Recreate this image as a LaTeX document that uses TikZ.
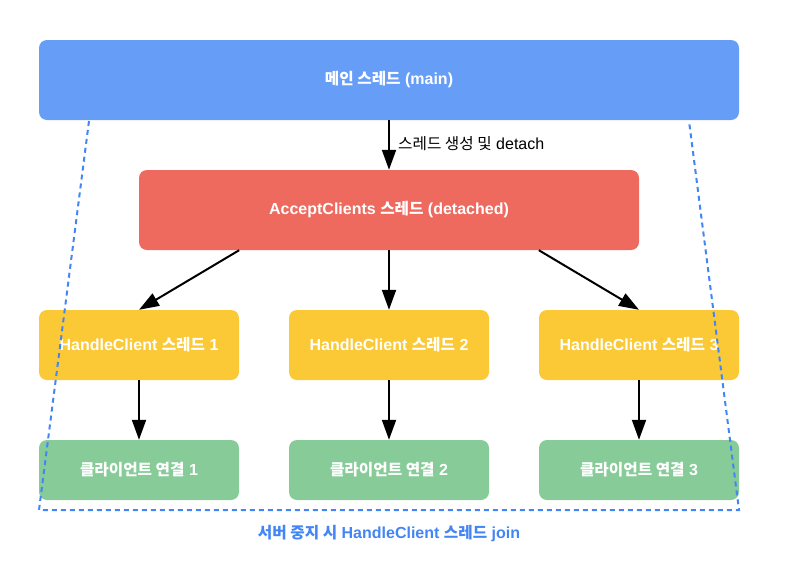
\documentclass[tikz,border=0pt]{standalone}
\usepackage{fontspec}
\setmainfont{Liberation Sans}
\newfontfamily\krfont{Noto Sans CJK KR}[Scale=0.98]
\newcommand{\K}[1]{{\krfont #1}}
\usetikzlibrary{arrows.meta}
\definecolor{mainblue}{RGB}{102,157,246}
\definecolor{accred}{RGB}{238,106,95}
\definecolor{handyel}{RGB}{251,201,54}
\definecolor{cligreen}{RGB}{135,203,152}
\definecolor{joinblue}{RGB}{66,133,244}
\begin{document}
\begin{tikzpicture}[x=1pt,y=-1pt,
  box/.style={rounded corners=8pt, inner sep=0pt, text=white,
    font=\fontsize{16}{18}\selectfont\bfseries},
  arr/.style={line width=2pt, -{Triangle[length=20pt,width=14pt]}},
  joinline/.style={joinblue, line width=2pt, dash pattern=on 5pt off 4pt}
]
\useasboundingbox (0,0) rectangle (792,568);
\node[box, fill=mainblue, minimum width=700pt, minimum height=80pt] (main) at (389,80) {\K{메인 스레드} (main)};
\node[box, fill=accred, minimum width=500pt, minimum height=80pt] (acc) at (389,210) {AcceptClients \K{스레드} (detached)};
\node[box, fill=handyel, minimum width=200pt, minimum height=70pt] (h1) at (139,345) {HandleClient \K{스레드} 1};
\node[box, fill=handyel, minimum width=200pt, minimum height=70pt] (h2) at (389,345) {HandleClient \K{스레드} 2};
\node[box, fill=handyel, minimum width=200pt, minimum height=70pt] (h3) at (639,345) {HandleClient \K{스레드} 3};
\node[box, fill=cligreen, minimum width=200pt, minimum height=60pt] (c1) at (139,470) {\K{클라이언트 연결} 1};
\node[box, fill=cligreen, minimum width=200pt, minimum height=60pt] (c2) at (389,470) {\K{클라이언트 연결} 2};
\node[box, fill=cligreen, minimum width=200pt, minimum height=60pt] (c3) at (639,470) {\K{클라이언트 연결} 3};

\draw[arr] (main.south) -- (acc.north);
\node[anchor=west, inner sep=0pt, font=\fontsize{16}{18}\selectfont] (lbl) at (398,144) {\K{스레드 생성 및} detach};
\draw[arr] (acc.south -| h1.east) -- (h1.north);
\draw[arr] (acc.south) -- (h2.north);
\draw[arr] (acc.south -| h3.west) -- (h3.north);
\draw[arr] (h1.south) -- (c1.north);
\draw[arr] (h2.south) -- (c2.north);
\draw[arr] (h3.south) -- (c3.north);

\coordinate (d1) at (89,121);
\coordinate (d2) at (39,510);
\coordinate (d3) at (739,510);
\coordinate (d4) at (689,121);
\draw[joinline] (d1) -- (d2) -- (d3) -- (d4);
\node[text=joinblue, font=\fontsize{16}{18}\selectfont\bfseries] (joinlbl) at (389,534) {\K{서버 중지 시} HandleClient \K{스레드} join};
\end{tikzpicture}
\end{document}
